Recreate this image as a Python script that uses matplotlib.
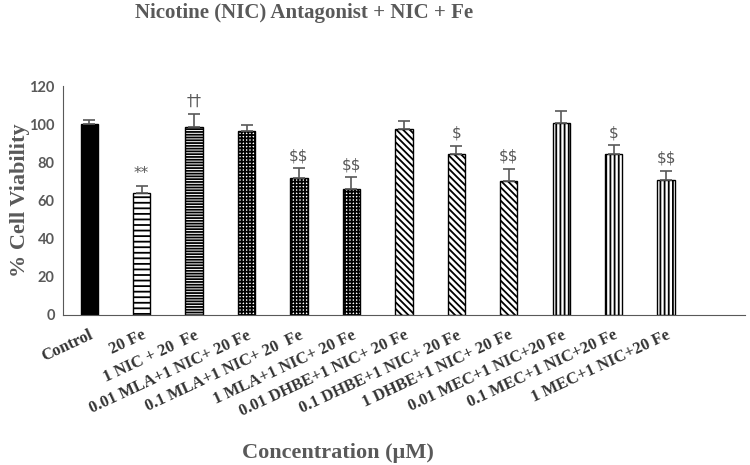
import matplotlib.pyplot as plt
import numpy as np

plt.rcParams['hatch.linewidth'] = 1.3

groups = ['Control', '20 Fe', '1 NIC + 20  Fe', '0.01 MLA+1 NIC+ 20 Fe',
          '0.1 MLA+1 NIC+ 20  Fe', '1 MLA+1 NIC+ 20 Fe',
          '0.01 DHBE+1 NIC+ 20 Fe', '0.1 DHBE+1 NIC+ 20 Fe',
          '1 DHBE+1 NIC+ 20 Fe', '0.01 MEC+1 NIC+20 Fe',
          '0.1 MEC+1 NIC+20 Fe', '1 MEC+1 NIC+20 Fe']
viability = [100.1, 63.9, 98.7, 96.3, 71.5, 66.0, 97.5, 84.4, 70.2, 100.8, 84.2, 70.8]
sem = [2.1, 3.9, 6.8, 3.1, 5.5, 6.2, 4.0, 4.2, 6.5, 6.1, 4.9, 4.8]
marks = ['', '**', '\u2020\u2020', '', '$$', '$$', '', '$', '$$', '', '$', '$$']

hatches = ['', '---', '------', '+++++', '+++++', '+++++',
           '\\\\\\\\\\', '\\\\\\\\\\', '\\\\\\\\\\', '||||', '||||', '||||']
fills = ['black'] + ['white'] * 11

grey = '#595959'
serif = 'Liberation Serif'

fig, ax = plt.subplots(figsize=(7.5, 4.65), dpi=100)
fig.subplots_adjust(left=0.084, right=0.993, bottom=0.323, top=0.815)

x = np.arange(len(groups))
for i in range(len(groups)):
    ax.bar(x[i], viability[i], width=0.33, color=fills[i], edgecolor='black',
           hatch=hatches[i], linewidth=1.0, zorder=2)
ax.errorbar(x, viability, yerr=[np.zeros(len(sem)), sem], fmt='none',
            ecolor=grey, elinewidth=1.2, capsize=4, capthick=1.2, zorder=3)

for i, m in enumerate(marks):
    if m:
        ax.text(x[i], viability[i] + sem[i] + 6.5, m, ha='center', va='center',
                fontsize=11, color=grey, family='DejaVu Sans', parse_math=False)

ax.set_xlim(-0.5, 12.5)
ax.set_ylim(0, 120)
ax.set_yticks(range(0, 121, 20))
ax.tick_params(axis='y', length=0, labelsize=10.5, labelcolor=grey, pad=6)
for lab in ax.get_yticklabels():
    lab.set_fontweight('bold')
    lab.set_family('Lato')
ax.set_xticks(x)
ax.set_xticklabels(groups, rotation=25, ha='right', va='top',
                   rotation_mode='anchor', fontsize=12, fontweight='bold',
                   family=serif, color='#333333')
ax.tick_params(axis='x', length=0, pad=9)

for s in ['top', 'right']:
    ax.spines[s].set_visible(False)
ax.spines['left'].set_color(grey)
ax.spines['bottom'].set_color(grey)

fig.text(0.027, 0.57, '% Cell Viability', rotation=90, ha='center', va='center',
         fontsize=16, fontweight='bold', family=serif, color=grey)
fig.text(0.45, 0.025, 'Concentration (\u00b5M)', ha='center', va='center',
         fontsize=16, fontweight='bold', family=serif, color=grey)
fig.text(0.405, 0.972, 'Nicotine (NIC) Antagonist + NIC + Fe', ha='center',
         va='center', fontsize=15, fontweight='bold', family=serif, color=grey)

fig.savefig('out.png', dpi=100)
